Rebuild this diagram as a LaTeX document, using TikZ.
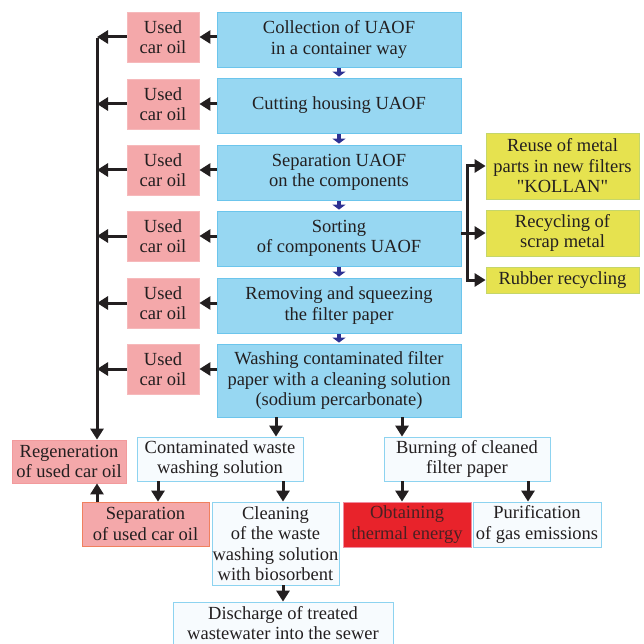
\documentclass[tikz,border=0pt]{standalone}
\usepackage{fontspec}
\setmainfont{Liberation Serif}
\newfontfamily\qfont{Liberation Serif}[Ligatures=TeXOff]
\usetikzlibrary{arrows.meta}
\definecolor{txt}{HTML}{231F20}
\definecolor{bluef}{HTML}{97D7F2}
\definecolor{blued}{HTML}{6CC5EC}
\definecolor{pinkf}{HTML}{F4A8AA}
\definecolor{pinkd}{HTML}{F29A9C}
\definecolor{sepd}{HTML}{F0805E}
\definecolor{yelf}{HTML}{E6E24F}
\definecolor{yeld}{HTML}{C5D66A}
\definecolor{whf}{HTML}{F7FBFE}
\definecolor{whd}{HTML}{8DD3F0}
\definecolor{redf}{HTML}{E8232B}
\definecolor{redd}{HTML}{F08CA0}
\definecolor{navy}{HTML}{2E3192}
\tikzset{
  bx/.style={draw, line width=0.8pt, inner sep=0pt, align=center, text=txt,
    font=\fontsize{18.5}{20.5}\selectfont},
  bluebox/.style={bx, fill=bluef, draw=blued, minimum width=244pt},
  pinkbox/.style={bx, fill=pinkf, draw=pinkf!80!white, minimum width=72pt, minimum height=50pt},
  whbox/.style={bx, fill=whf, draw=whd},
  yelbox/.style={bx, fill=yelf, draw=yeld, minimum width=153pt},
  arr/.style={draw=txt, line width=3pt, -{Triangle[length=11pt,width=13pt]}},
  ln/.style={draw=txt, line width=3pt},
  narr/.style={draw=navy, line width=4pt, -{Triangle[length=5pt,width=13pt]}, shorten <=1pt, shorten >=1pt}
}
\begin{document}
\begin{tikzpicture}[x=1pt,y=-1pt]
\clip (0,0) rectangle (644,644);
\fill[white] (0,0) rectangle (644,644);
% main column
\node[bluebox, minimum height=55pt] (B1) at (339,39.5) {Collection of UAOF\\in a container way};
\node[bluebox, minimum height=55pt] (B2) at (339,105.5) {Cutting housing UAOF};
\node[bluebox, minimum height=55pt] (B3) at (339,172.5) {Separation UAOF\\on the components};
\node[bluebox, minimum height=55pt] (B4) at (339,238.5) {Sorting\\of components UAOF};
\node[bluebox, minimum height=55pt] (B5) at (339,305.5) {Removing and squeezing\\the filter paper};
\node[bluebox, minimum height=73pt] (B6) at (339,380.5) {Washing contaminated filter\\paper with a cleaning solution\\(sodium percarbonate)};
% pink
\node[pinkbox] (P1) at (163,37) {Used\\car oil};
\node[pinkbox] (P2) at (163,104) {Used\\car oil};
\node[pinkbox] (P3) at (163,170) {Used\\car oil};
\node[pinkbox] (P4) at (163,236) {Used\\car oil};
\node[pinkbox] (P5) at (163,303) {Used\\car oil};
\node[pinkbox] (P6) at (163,369) {Used\\car oil};
% yellow
\node[yelbox, minimum height=66pt] (Y1) at (562.5,166) {Reuse of metal\\parts in new filters\\{\qfont"}KOLLAN{\qfont"}};
\node[yelbox, minimum height=46pt] (Y2) at (562.5,233) {Recycling of\\scrap metal};
\node[yelbox, minimum height=26pt] (Y3) at (562.5,280) {Rubber recycling};
% lower boxes
\node[bx, fill=pinkf, draw=pinkd, minimum width=114pt, minimum height=43pt] (R) at (69,461.5) {Regeneration\\of used car oil};
\node[bx, fill=pinkf, draw=sepd, minimum width=127pt, minimum height=44pt] (S) at (145.5,524) {Separation\\of used car oil};
\node[whbox, minimum width=166pt, minimum height=44pt] (C) at (220,459) {Contaminated waste\\washing solution};
\node[whbox, minimum width=127pt, minimum height=83pt] (K) at (275.5,543.5) {Cleaning\\of the waste\\washing solution\\with biosorbent};
\node[whbox, minimum width=220pt, minimum height=42pt] (D) at (283,623) {Discharge of treated\\wastewater into the sewer};
\node[whbox, minimum width=166pt, minimum height=44pt] (U) at (467,459) {Burning of cleaned\\filter paper};
\node[bx, fill=redf, draw=redd, minimum width=128pt, minimum height=45pt, text=txt!80!redf] (O) at (407,524.5) {Obtaining\\thermal energy};
\node[whbox, minimum width=128pt, minimum height=45pt] (Q) at (537,524.5) {Purification\\of gas emissions};
% helper coordinates
\coordinate (L) at (97,0);
\coordinate (xa) at (276,0);
\coordinate (xb) at (402,0);
\coordinate (xc) at (158,0);
\coordinate (xd) at (283,0);
\coordinate (xe) at (528,0);
\coordinate (bk) at (467,0);
% navy arrows
\draw[narr] (B1.south) -- (B2.north);
\draw[narr] (B2.south) -- (B3.north);
\draw[narr] (B3.south) -- (B4.north);
\draw[narr] (B4.south) -- (B5.north);
\draw[narr] (B5.south) -- (B6.north);
% blue -> pink, pink -> line
\foreach \i in {1,...,6}{
  \draw[arr] (B\i.west |- P\i) -- (P\i.east);
  \draw[arr] (P\i.west) -- (P\i.west -| L);
}
\draw[arr] ([yshift=-1.5pt]P1.west -| L) -- (R.north -| L);
\draw[arr] (S.north -| L) -- (R.south -| L);
% bracket
\draw[arr] (B4.east |- Y2) -- (Y2.west);
\draw[ln, line cap=rect] (bk |- Y1) -- (bk |- Y3);
\draw[arr] (bk |- Y1) -- (Y1.west);
\draw[arr] (bk |- Y3) -- (Y3.west);
% lower arrows
\draw[arr] (B6.south -| xa) -- (C.north -| xa);
\draw[arr] (B6.south -| xb) -- (U.north -| xb);
\draw[arr] (C.south -| xc) -- (S.north -| xc);
\draw[arr] (C.south -| xd) -- (K.north -| xd);
\draw[arr] (K.south -| xd) -- (D.north -| xd);
\draw[arr] (U.south -| xb) -- (O.north -| xb);
\draw[arr] (U.south -| xe) -- (Q.north -| xe);
\end{tikzpicture}
\end{document}
